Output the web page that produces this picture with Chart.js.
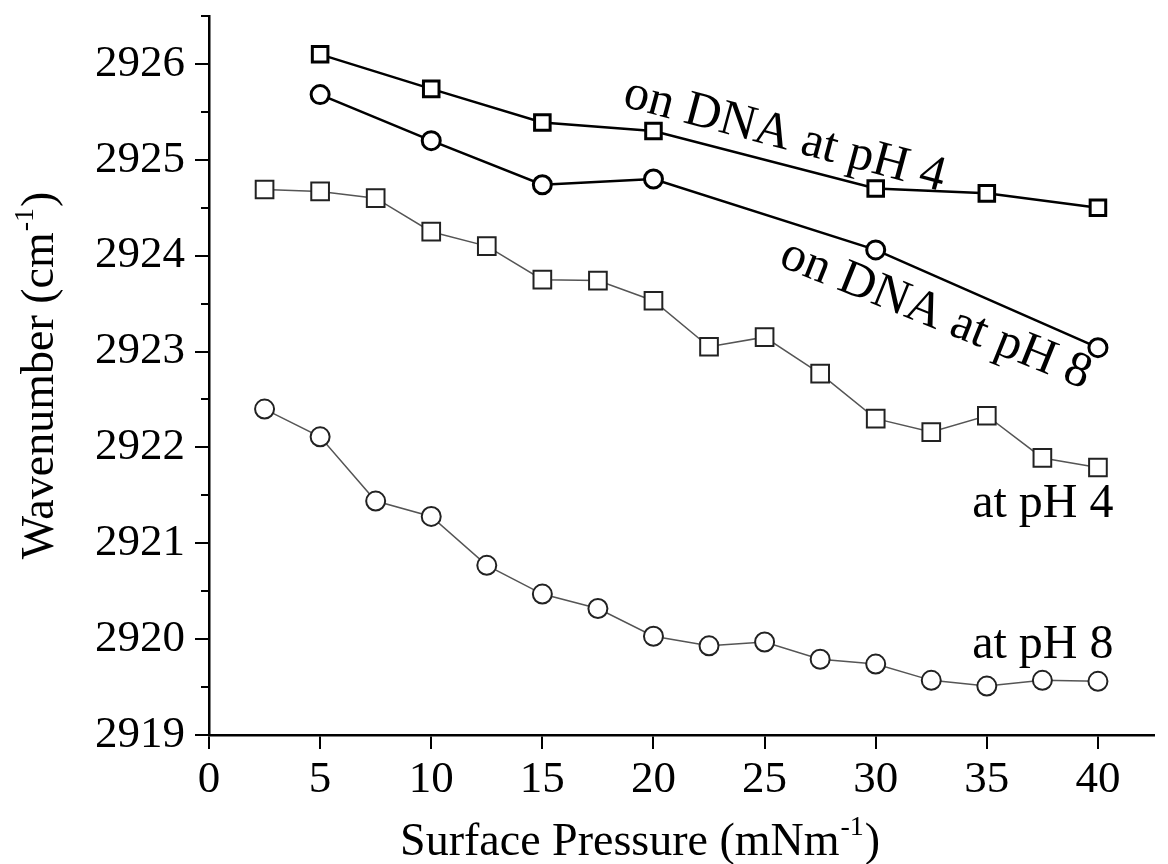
<!DOCTYPE html>
<html><head><meta charset="utf-8">
<script src="https://cdn.jsdelivr.net/npm/chart.js@4/dist/chart.umd.min.js"></script>
<style>html,body{margin:0;padding:0;background:#fff;}#wrap{width:1168px;height:864px;}</style>
</head><body><div id="wrap"><canvas id="c" width="1168" height="864"></canvas></div>
<script>
// ---- data ----
const pressureDnaPH4 = [5, 10, 15, 20, 30, 35, 40];
const wavenumberDnaPH4 = [2926.10, 2925.74, 2925.39, 2925.30, 2924.70, 2924.65, 2924.50];
const pressureDnaPH8 = [5, 10, 15, 20, 30, 40];
const wavenumberDnaPH8 = [2925.68, 2925.20, 2924.74, 2924.80, 2924.06, 2923.04];
const pressureMono = [2.5, 5, 7.5, 10, 12.5, 15, 17.5, 20, 22.5, 25, 27.5, 30, 32.5, 35, 37.5, 40];
const wavenumberPH4 = [2924.69, 2924.67, 2924.60, 2924.25, 2924.10, 2923.75, 2923.74, 2923.53, 2923.05, 2923.15, 2922.77, 2922.30, 2922.16, 2922.33, 2921.89, 2921.79];
const wavenumberPH8 = [2922.40, 2922.11, 2921.44, 2921.28, 2920.77, 2920.47, 2920.32, 2920.03, 2919.93, 2919.97, 2919.79, 2919.74, 2919.57, 2919.51, 2919.57, 2919.56];
const xTickValues = [0, 5, 10, 15, 20, 25, 30, 35, 40];
const yTickValues = [2919, 2920, 2921, 2922, 2923, 2924, 2925, 2926];
const yMinorTickValues = [2919.5, 2920.5, 2921.5, 2922.5, 2923.5, 2924.5, 2925.5, 2926.5];
const xTitle = ['Surface Pressure (mNm', '-1', ')'];
const yTitle = ['Wavenumber (cm', '-1', ')'];
const seriesLabels = ['on DNA at pH 4', 'on DNA at pH 8', 'at pH 4', 'at pH 8'];

const pts = (xs, ys) => xs.map((x, i) => ({x: x, y: ys[i]}));
const SERIF = '"Liberation Serif", "Times New Roman", serif';

function drawSup(ctx, parts, x, y, align, big, small, rise) {
  ctx.font = big + 'px ' + SERIF;
  const w0 = ctx.measureText(parts[0]).width, w2 = ctx.measureText(parts[2]).width;
  ctx.font = small + 'px ' + SERIF;
  const w1 = ctx.measureText(parts[1]).width;
  const total = w0 + w1 + w2 + 2;
  let sx = align === 'center' ? x - total / 2 : x;
  ctx.textAlign = 'left'; ctx.textBaseline = 'alphabetic';
  ctx.font = big + 'px ' + SERIF; ctx.fillText(parts[0], sx, y);
  ctx.font = small + 'px ' + SERIF; ctx.fillText(parts[1], sx + w0 + 1, y - rise);
  ctx.font = big + 'px ' + SERIF; ctx.fillText(parts[2], sx + w0 + w1 + 2, y);
}

const decor = {
  id: 'decor',
  afterDraw(chart) {
    const ctx = chart.ctx, xs = chart.scales.x, ys = chart.scales.y, ca = chart.chartArea;
    ctx.save();
    ctx.fillStyle = '#000'; ctx.strokeStyle = '#000'; ctx.lineWidth = 2;
    yMinorTickValues.forEach(v => {
      const py = Math.round(ys.getPixelForValue(v));
      ctx.beginPath(); ctx.moveTo(ca.left - 8, py); ctx.lineTo(ca.left, py); ctx.stroke();
    });
    drawSup(ctx, xTitle, xs.getPixelForValue(19.4), 855, 'center', 46, 28, 20);
    ctx.save();
    ctx.translate(53, (ca.top + ca.bottom) / 2);
    ctx.rotate(-Math.PI / 2);
    drawSup(ctx, yTitle, 0, 0, 'center', 46, 28, 20);
    ctx.restore();
    ctx.font = '50px ' + SERIF;
    const rot = (t, vx, vy, deg) => {
      ctx.save();
      ctx.translate(xs.getPixelForValue(vx), ys.getPixelForValue(vy));
      ctx.rotate(deg * Math.PI / 180);
      ctx.textAlign = 'center'; ctx.textBaseline = 'middle';
      ctx.fillText(t, 0, 0);
      ctx.restore();
    };
    rot(seriesLabels[0], 25.9, 2925.25, 15);
    rot(seriesLabels[1], 32.7, 2923.38, 22);
    ctx.font = '48px ' + SERIF;
    ctx.textAlign = 'right'; ctx.textBaseline = 'alphabetic';
    ctx.fillText(seriesLabels[2], xs.getPixelForValue(40.7), ys.getPixelForValue(2921.27));
    ctx.fillText(seriesLabels[3], xs.getPixelForValue(40.7), ys.getPixelForValue(2919.80));
    ctx.restore();
  }
};

const thin = {borderColor: '#555', borderWidth: 1.5, pointBorderColor: '#222', pointBorderWidth: 2, pointBackgroundColor: '#fff'};
const thick = {borderColor: '#000', borderWidth: 2.5, pointBorderColor: '#000', pointBorderWidth: 3, pointBackgroundColor: '#fff'};

new Chart(document.getElementById('c'), {
  type: 'scatter',
  data: {
    datasets: [
      Object.assign({label: seriesLabels[0], data: pts(pressureDnaPH4, wavenumberDnaPH4), showLine: true, pointStyle: 'rect', pointRadius: 11}, thick),
      Object.assign({label: seriesLabels[1], data: pts(pressureDnaPH8, wavenumberDnaPH8), showLine: true, pointStyle: 'circle', pointRadius: 9}, thick),
      Object.assign({label: seriesLabels[2], data: pts(pressureMono, wavenumberPH4), showLine: true, pointStyle: 'rect', pointRadius: 12.5}, thin),
      Object.assign({label: seriesLabels[3], data: pts(pressureMono, wavenumberPH8), showLine: true, pointStyle: 'circle', pointRadius: 9.5}, thin)
    ]
  },
  options: {
    responsive: false, animation: false, devicePixelRatio: 1,
    layout: {padding: {top: 16, right: 2, left: 0, bottom: 0}},
    plugins: {legend: {display: false}, tooltip: {enabled: false}},
    scales: {
      x: {
        type: 'linear', min: 0, max: 42.5,
        afterFit: s => { s.height = 129; s.paddingLeft = 0; s.paddingRight = 0; },
        afterBuildTicks: s => { s.ticks = xTickValues.map(v => ({value: v})); },
        border: {display: true, color: '#000', width: 2.5},
        grid: {display: true, drawOnChartArea: false, drawTicks: true, tickLength: 14, color: '#000', lineWidth: 2},
        ticks: {color: '#000', font: {family: SERIF, size: 45}, padding: 4, maxRotation: 0, autoSkip: false, callback: v => String(v)}
      },
      y: {
        type: 'linear', min: 2919, max: 2926.5,
        afterFit: s => { s.width = 209; s.paddingTop = 0; s.paddingBottom = 0; },
        afterBuildTicks: s => { s.ticks = yTickValues.map(v => ({value: v})); },
        border: {display: true, color: '#000', width: 2.5},
        grid: {display: true, drawOnChartArea: false, drawTicks: true, tickLength: 14, color: '#000', lineWidth: 2},
        ticks: {color: '#000', font: {family: SERIF, size: 45}, padding: 10, autoSkip: false, callback: v => String(v)}
      }
    }
  },
  plugins: [decor]
});
</script></body></html>
